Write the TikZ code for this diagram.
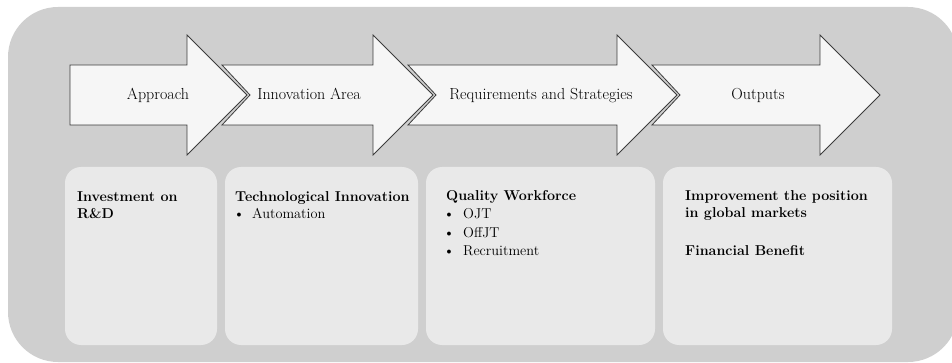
\documentclass[tikz,border=0pt]{standalone}
\usepackage{fontspec}
\definecolor{bgc}{HTML}{CFCFCF}
\definecolor{boxc}{HTML}{E9E9E9}
\definecolor{arrc}{HTML}{F6F6F6}
\definecolor{linec}{HTML}{3C3C3C}
\begin{document}
\begin{tikzpicture}[x=1pt,y=-1pt,
  arrowshape/.style={fill=arrc,draw=linec,line width=0.8pt,line join=miter},
  panel/.style={fill=boxc,rounded corners=16pt},
  arrlabel/.style={font=\fontsize{16}{18}\selectfont,anchor=base,inner sep=0pt},
  head/.style={font=\fontsize{14.3}{17}\selectfont\bfseries,anchor=base west,inner sep=0pt},
  item/.style={font=\fontsize{14.3}{17}\selectfont,anchor=base west,inner sep=0pt},
  dot/.style={font=\fontsize{14.3}{17}\selectfont,anchor=base,inner sep=0pt}]
\useasboundingbox (0,0) rectangle (952,363);
\fill[bgc,rounded corners=50pt] (8,7) rectangle (958,362);
% arrows
\draw[arrowshape] (70,65) -- (187,65) -- (187,35) -- (247,95) -- (187,155) -- (187,125) -- (70,125) -- cycle;
\draw[arrowshape] (222,65) -- (373,65) -- (373,35) -- (433,95) -- (373,155) -- (373,125) -- (222,125) -- (250,95) -- cycle;
\draw[arrowshape] (408,65) -- (617,65) -- (617,35) -- (677,95) -- (617,155) -- (617,125) -- (408,125) -- (436,95) -- cycle;
\draw[arrowshape] (652,65) -- (820,65) -- (820,35) -- (880,95) -- (820,155) -- (820,125) -- (652,125) -- (680,95) -- cycle;
\node[arrlabel] (a1) at (158,100) {Approach};
\node[arrlabel] (a2) at (309,100) {Innovation Area};
\node[arrlabel] (a3) at (541,100) {Requirements and Strategies};
\node[arrlabel] (a4) at (758,100) {Outputs};
% panels
\fill[panel] (65,167) rectangle (217,345);
\fill[panel] (225,167) rectangle (418,345);
\fill[panel] (426,167) rectangle (655,345);
\fill[panel] (663,167) rectangle (892,345);
% panel 1
\node[head] (b1a) at (77,202) {Investment on};
\node[head] (b1b) at (77,219) {R\&D};
% panel 2
\node[head] (b2a) at (235,202) {Technological Innovation};
\node[dot]  (b2d) at (239,219) {\textbullet};
\node[item] (b2b) at (252,219) {Automation};
% panel 3
\node[head] (b3a) at (446,201) {Quality Workforce};
\node[dot]  (b3d1) at (449,219) {\textbullet};
\node[item] (b3b) at (463,219) {OJT};
\node[dot]  (b3d2) at (449,237) {\textbullet};
\node[item] (b3c) at (463,237) {OffJT};
\node[dot]  (b3d3) at (449,255) {\textbullet};
\node[item] (b3e) at (463,255) {Recruitment};
% panel 4
\node[head] (b4a) at (685,201) {Improvement the position};
\node[head] (b4b) at (685,218) {in global markets};
\node[head] (b4c) at (685,255) {Financial Benefit};
\end{tikzpicture}
\end{document}
